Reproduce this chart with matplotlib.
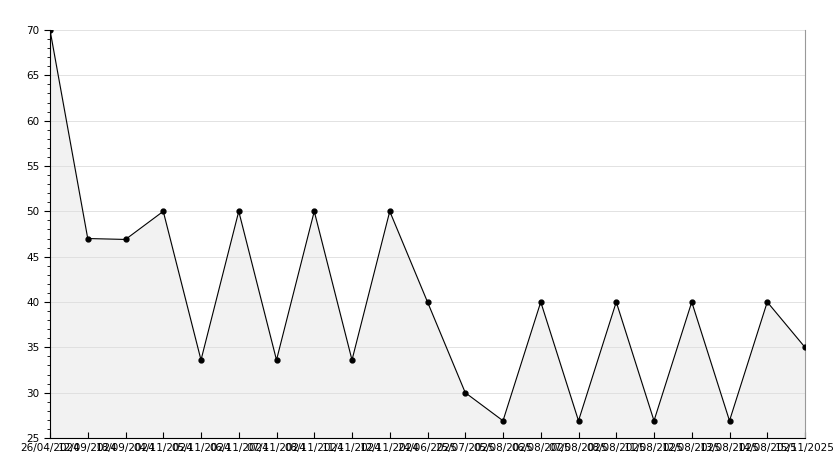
import matplotlib
matplotlib.use("Agg")
import matplotlib.pyplot as plt
from matplotlib.ticker import MultipleLocator

labels = ["26/04/2024","12/09/2024","18/09/2024","04/11/2024","05/11/2024","06/11/2024","07/11/2024",
          "08/11/2024","11/11/2024","12/11/2024","24/06/2025","25/07/2025","05/08/2025","06/08/2025",
          "07/08/2025","08/08/2025","11/08/2025","12/08/2025","13/08/2025","14/08/2025","15/11/2025"]
values = [70,47,46.9,50,33.6,50,33.6,50,33.6,50,40,30,26.9,40,26.9,40,26.9,40,26.9,40,35]

fig = plt.figure(figsize=(8.34,4.68), dpi=100)
ax = fig.add_axes([50/834, 30/468, 755/834, 408/468])
x = list(range(len(values)))
ax.fill_between(x, values, 25, color="#f2f2f2", zorder=1)
ax.plot(x, values, color="black", lw=0.8, marker="o", ms=3.5, zorder=3)
ax.set_xlim(0, len(values)-1)
ax.set_ylim(25, 70)
ax.set_xticks(x)
ax.set_xticklabels(labels, fontsize=7.5)
ax.yaxis.set_major_locator(MultipleLocator(5))
ax.yaxis.set_minor_locator(MultipleLocator(1))
ax.tick_params(axis="y", labelsize=7.5, length=4)
ax.tick_params(axis="y", which="minor", length=2)
ax.tick_params(axis="x", length=4, direction="in")
ax.grid(axis="y", color="#dddddd", lw=0.6, zorder=0)
ax.spines["top"].set_visible(False)
ax.spines["right"].set_color("#999999")
fig.savefig("out.png", dpi=100)
